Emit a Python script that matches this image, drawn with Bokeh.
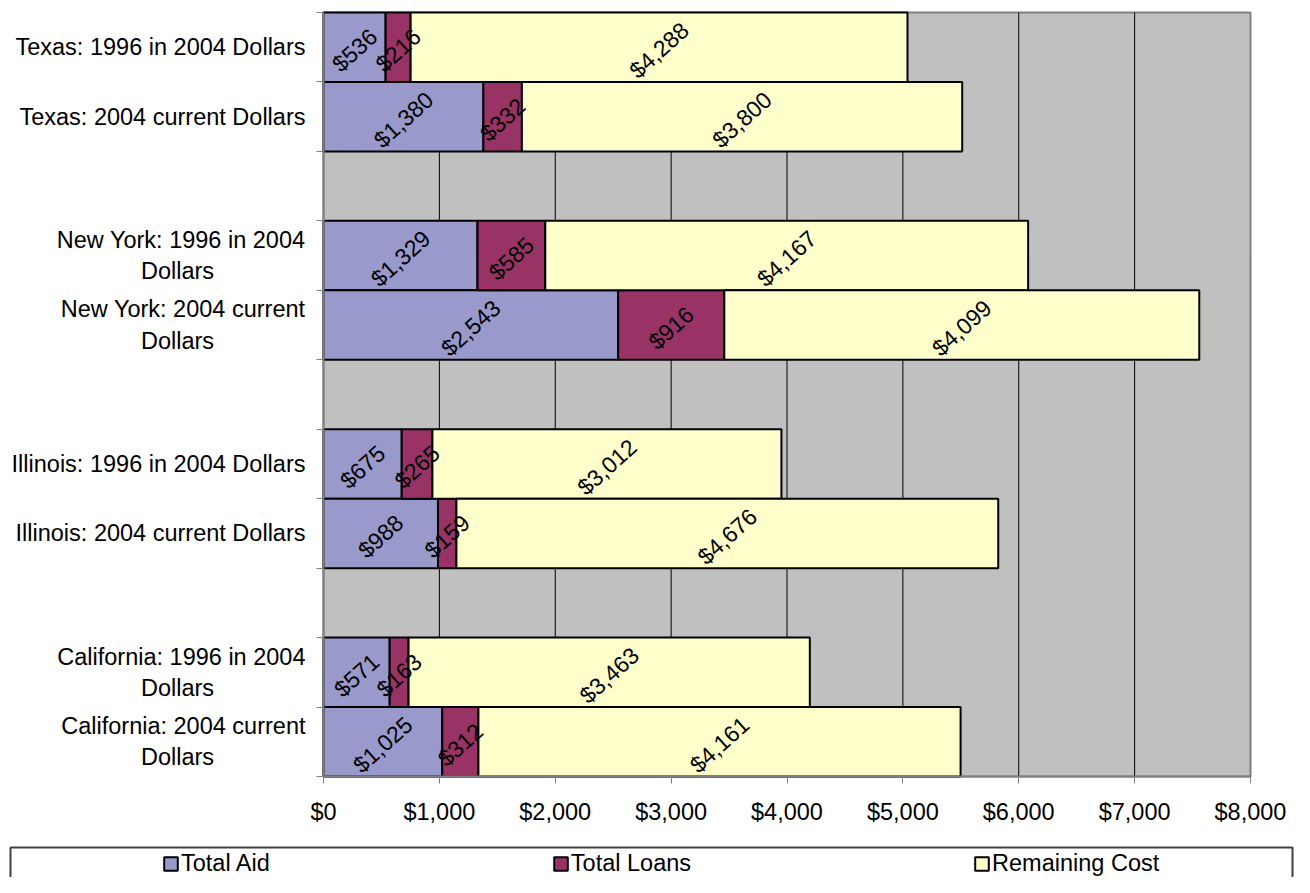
from bokeh.plotting import figure
from bokeh.models import (ColumnDataSource, Range1d, FixedTicker, NumeralTickFormatter, Legend,
                          LegendItem, BoxAnnotation)
from bokeh.core.properties import value
from bokeh.embed import file_html
from bokeh.resources import INLINE

# ---------------- data ----------------
categories = [
    "Texas: 1996 in 2004 Dollars",
    "Texas: 2004 current Dollars",
    None,
    "New York: 1996 in 2004\nDollars",
    "New York: 2004 current\nDollars",
    None,
    "Illinois: 1996 in 2004 Dollars",
    "Illinois: 2004 current Dollars",
    None,
    "California: 1996 in 2004\nDollars",
    "California: 2004 current\nDollars",
]
total_aid = [536, 1380, 1329, 2543, 675, 988, 571, 1025]
total_loans = [216, 332, 585, 916, 265, 159, 163, 312]
remaining_cost = [4288, 3800, 4167, 4099, 3012, 4676, 3463, 4161]
series_names = ["Total Aid", "Total Loans", "Remaining Cost"]
series_colors = ["#9999CC", "#993366", "#FFFFCC"]
x_ticks = [0, 1000, 2000, 3000, 4000, 5000, 6000, 7000, 8000]

FONT = "Liberation Sans"
NBSP = "\u00a0"

n_slots = len(categories)
ys = [n_slots - i - 0.5 for i, c in enumerate(categories) if c]
labels = [c for c in categories if c]


def tick_label(s):
    if "\n" in s:
        a, b = s.split("\n")
        return a + "\n" + b + NBSP * 14
    return s


# ---------------- layout (pixels) ----------------
W, H = 1294, 877
PX_LEFT, PX_RIGHT = 323, 1250      # plot area left / right
PX_TOP, PX_BOTTOM = 12, 776        # plot area top / bottom
x_per_px = (x_ticks[-1] - x_ticks[0]) / (PX_RIGHT - PX_LEFT)
y_per_px = n_slots / (PX_BOTTOM - PX_TOP)


def px2x(px):
    return x_ticks[0] + (px - PX_LEFT) * x_per_px


def py2y(py):
    return (PX_BOTTOM - py) * y_per_px


p = figure(width=W, height=H, output_backend="svg", toolbar_location=None,
           x_range=Range1d(px2x(0), px2x(W)), y_range=Range1d(py2y(H), py2y(0)),
           min_border=0, min_border_left=0, min_border_right=0, min_border_top=0,
           min_border_bottom=0)
p.background_fill_color = "white"
p.border_fill_color = "white"
p.outline_line_color = None
p.xgrid.grid_line_color = None
p.ygrid.grid_line_color = None

# plot area background and gridlines
p.quad(left=[x_ticks[0]], right=[x_ticks[-1]], bottom=[0], top=[n_slots],
       fill_color="#C0C0C0", line_color="#808080", line_width=2)
p.segment(x0=x_ticks[1:-1], y0=[0] * (len(x_ticks) - 2), x1=x_ticks[1:-1],
          y1=[n_slots] * (len(x_ticks) - 2), line_color="black", line_width=1)

source = ColumnDataSource(dict(y=ys, aid=total_aid, loans=total_loans, remaining=remaining_cost))
bars = p.hbar_stack(["aid", "loans", "remaining"], y="y", height=1.0, color=series_colors,
                    line_color="black", line_width=2, source=source)

# value labels
series_vals = [total_aid, total_loans, remaining_cost]
lx, ly, lt = [], [], []
for si, vals in enumerate(series_vals):
    for j, v in enumerate(vals):
        left = sum(series_vals[k][j] for k in range(si))
        lx.append(left + v / 2)
        ly.append(ys[j])
        lt.append("${:,}".format(v))
lsrc = ColumnDataSource(dict(x=lx, y=ly, t=lt))
p.text(x="x", y="y", text="t", source=lsrc, angle=42, angle_units="deg",
       text_align="center", text_baseline="middle", y_offset=3,
       text_font=value(FONT), text_font_size="23px", text_color="black")

# x axis
xa = p.xaxis[0]
xa.fixed_location = 0
xa.bounds = (x_ticks[0], x_ticks[-1])
xa.ticker = FixedTicker(ticks=x_ticks)
xa.formatter = NumeralTickFormatter(format="$0,0")
xa.major_label_text_font = FONT
xa.major_label_text_font_size = "23.5px"
xa.major_label_text_color = "black"
xa.axis_line_color = "#808080"
xa.axis_line_width = 2
xa.major_tick_line_color = "#808080"
xa.major_tick_out = 7
xa.major_tick_in = 0
xa.minor_tick_line_color = None
xa.major_label_standoff = 15

# y axis
ya = p.yaxis[0]
ya.fixed_location = x_ticks[0]
ya.bounds = (0, n_slots)
ya.ticker = FixedTicker(ticks=ys, minor_ticks=list(range(n_slots + 1)))
ya.major_label_overrides = {y: tick_label(l) for y, l in zip(ys, labels)}
ya.major_label_text_font = FONT
ya.major_label_text_font_size = "23.5px"
ya.major_label_text_color = "black"
ya.axis_line_color = "#808080"
ya.axis_line_width = 2
ya.major_tick_out = 0
ya.major_tick_in = 0
ya.minor_tick_line_color = "#808080"
ya.minor_tick_out = 7
ya.minor_tick_in = 0
ya.major_label_standoff = 11

# legend box
box = BoxAnnotation(left=px2x(10), right=px2x(1292), top=py2y(847), bottom=py2y(H + 10),
                    fill_alpha=0, line_color="#404040", line_alpha=1.0, line_width=2)
p.add_layout(box)

items = [LegendItem(label=name, renderers=[r]) for name, r in zip(series_names, bars)]
leg = Legend(items=items, orientation="horizontal", location=(162, 0), spacing=282,
             padding=0, margin=0, glyph_width=17, glyph_height=17, label_standoff=2,
             label_text_font=FONT, label_text_font_size="23.5px", label_text_color="black",
             border_line_color=None, background_fill_alpha=0)
p.add_layout(leg, "center")

open("out.html", "w").write(file_html(p, INLINE))
